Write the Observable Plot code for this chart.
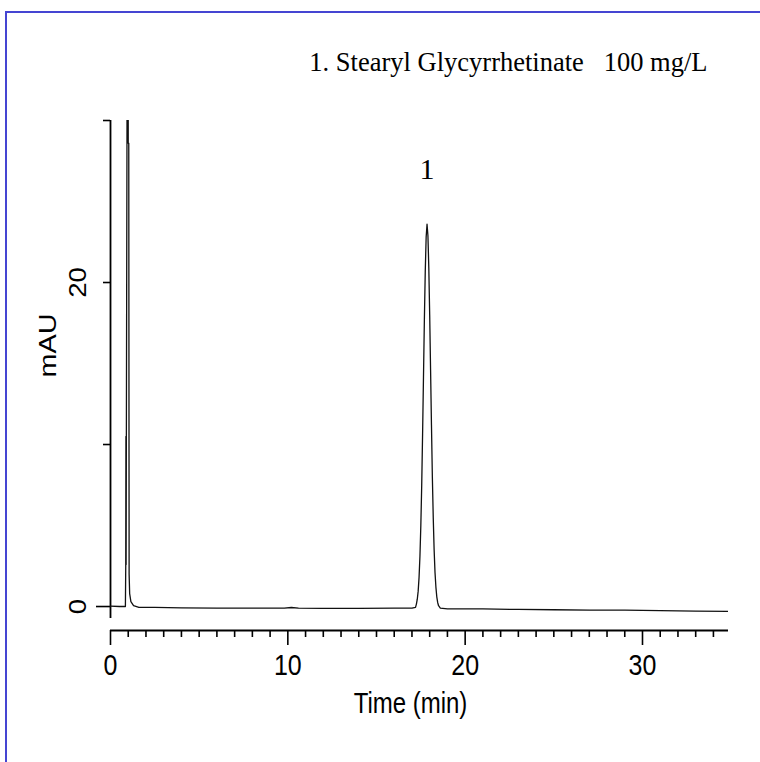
<!DOCTYPE html>
<html>
<head>
<meta charset="utf-8">
<script src="https://cdn.jsdelivr.net/npm/d3@7"></script>
<script src="https://cdn.jsdelivr.net/npm/@observablehq/plot@0.6"></script>
<style>
  html, body { margin: 0; padding: 0; background: #fff; }
  #wrap { position: relative; width: 760px; height: 762px; overflow: hidden; }
  #border { position: absolute; left: 5px; top: 11px; width: 800px; height: 800px;
            border-top: 2px solid #4545d2; border-left: 2px solid #4545d2; pointer-events: none; }
</style>
</head>
<body>
<div id="wrap"><div id="border"></div></div>
<script>
// ---- data ----
const time = [
  0, 0.5, 0.84, 0.86, 0.87, 0.88, 0.95, 0.99, 1.00, 1.03, 1.05, 1.08, 1.15, 1.3, 1.6,
  2.5, 4, 6, 8, 9.8, 10.2, 10.6, 12, 14, 16, 17.0, 17.2,
  17.25, 17.30, 17.35, 17.40, 17.45, 17.50, 17.55, 17.60, 17.65, 17.70, 17.75, 17.80,
  17.85, 17.90, 17.95, 18.00, 18.05, 18.10, 18.15, 18.20, 18.25, 18.30, 18.35, 18.40,
  18.45, 18.50, 18.60, 19, 21, 23, 25, 27, 29, 31, 33, 34.85
];
const signal = [
  0.02, 0.0, 0.0, 2.5, 10.5, 2.6, 40, 40, 28.6, 28.6, 2.0, 0.8, 0.3, 0.05, -0.05,
  -0.05, -0.08, -0.1, -0.1, -0.1, -0.06, -0.1, -0.12, -0.12, -0.1, -0.1, -0.05,
  0.15, 0.45, 0.95, 1.8, 3.1, 5.0, 7.5, 10.7, 14.2, 17.7, 20.7, 22.8,
  23.6, 22.9, 20.9, 18.0, 14.6, 11.2, 8.0, 5.5, 3.5, 2.1, 1.2, 0.6,
  0.25, 0.05, -0.1, -0.15, -0.15, -0.18, -0.2, -0.22, -0.22, -0.25, -0.28, -0.3
];
const peakLabels = ["1"];
const peakTimes = [17.85];
const peakHeights = [23.6];
const legendText = "1. Stearyl Glycyrrhetinate   100 mg/L";
const xMajorTicks = [0, 10, 20, 30];
const xMinorTicks = d3.range(1, 35).filter(d => d % 10 !== 0);
const yTicks = [10, 20, 30];
const yLabelTicks = [0, 20];
const xDomain = [0, 34.85];
const yDomain = [-1.48, 30];
const yAxisBottom = -0.74;
const xLabel = "Time (min)";
const yLabel = "mAU";

const data = time.map((t, i) => ({time: t, signal: signal[i]}));
const peaks = peakLabels.map((l, i) => ({label: l, time: peakTimes[i], height: peakHeights[i]}));

const sans = "'Liberation Sans', Arial, sans-serif";
const serif = "'Liberation Serif', 'Times New Roman', serif";

const chart = Plot.plot({
  width: 760,
  height: 762,
  marginTop: 120,
  marginBottom: 132,
  marginLeft: 110,
  marginRight: 32,
  style: {background: "transparent", color: "#000", fontFamily: sans},
  x: {domain: xDomain, label: null},
  y: {domain: yDomain, label: null},
  marks: [
    // axis lines
    Plot.ruleY([yDomain[0]], {stroke: "#000", strokeWidth: 1.8}),
    Plot.ruleX([0], {y1: yAxisBottom, y2: yDomain[1], stroke: "#000", strokeWidth: 1.8}),
    // x ticks
    Plot.axisX({ticks: xMinorTicks, tickSize: 7, tickFormat: () => "", label: null, strokeWidth: 1.6}),
    Plot.axisX({ticks: xMajorTicks, tickSize: 15, tickFormat: () => "", label: null, strokeWidth: 1.6}),
    Plot.text(xMajorTicks, {x: d => d, frameAnchor: "bottom", dy: 35, lineAnchor: "middle",
      text: d => String(d), fontSize: 25, fontFamily: sans, ariaDescription: "tall"}),
    // y ticks
    Plot.axisY({ticks: yTicks, tickSize: 7, tickFormat: () => "", label: null, strokeWidth: 1.6}),
    Plot.axisY({ticks: [0], tickSize: 14, tickFormat: () => "", label: null, strokeWidth: 1.6}),
    Plot.text(yLabelTicks, {y: d => d, frameAnchor: "left", dx: -32, rotate: -90,
      textAnchor: "middle", lineAnchor: "middle", text: d => String(d), fontSize: 23,
      fontFamily: sans, ariaDescription: "long"}),
    // axis titles
    Plot.text([xLabel], {frameAnchor: "bottom", dx: -9, dy: 73, lineAnchor: "middle",
      text: d => d, fontSize: 24, fontFamily: sans, ariaDescription: "tall"}),
    Plot.text([yLabel], {frameAnchor: "left", dx: -62, dy: -30, rotate: -90,
      textAnchor: "middle", lineAnchor: "middle",
      text: d => d, fontSize: 24, fontFamily: sans, ariaDescription: "long"}),
    // signal
    Plot.line(data, {x: "time", y: "signal", stroke: "#111", strokeWidth: 1.3, clip: true}),
    // peak label
    Plot.text(peaks, {x: "time", y: "height", text: "label", dy: -55, lineAnchor: "middle",
      fontSize: 30, fontFamily: serif}),
    // legend
    Plot.text([legendText], {frameAnchor: "top-right", dx: -21, dy: -58, lineAnchor: "middle",
      textAnchor: "end", text: d => d, fontSize: 26.5, fontFamily: serif})
  ]
});

// the reference's sans-serif type is stretched vertically (~1.2x)
function stretch(desc, sx, sy) {
  d3.select(chart).selectAll(`g[aria-description="${desc}"]`).each(function() {
    d3.select(this).selectAll("text").each(function() {
      const t = d3.select(this);
      let tr = t.attr("transform");
      if (!tr) {
        const x = +(t.attr("x") || 0), y = +(t.attr("y") || 0);
        tr = `translate(${x},${y})`;
        t.attr("x", null).attr("y", null);
      }
      t.attr("transform", `${tr} scale(${sx},${sy})`);
    });
  });
}
stretch("tall", 1, 1.2);
stretch("long", 1.2, 1);

document.getElementById("wrap").prepend(chart);
</script>
</body>
</html>
